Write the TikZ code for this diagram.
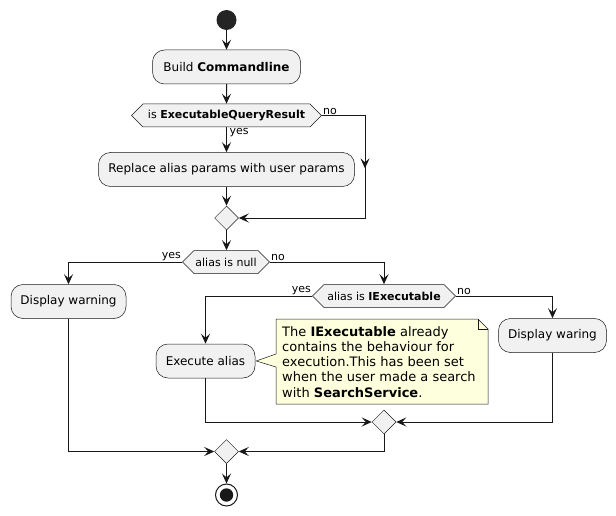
\documentclass[tikz,border=0pt]{standalone}
\usepackage{fontspec}
\setmainfont{DejaVu Sans}
\usetikzlibrary{arrows.meta}
\usetikzlibrary{shapes.geometric}
\usetikzlibrary{shapes.symbols}
\usetikzlibrary{calc}
\usetikzlibrary{decorations.markings}

\definecolor{boxfill}{HTML}{F1F1F1}
\definecolor{linecol}{HTML}{181818}
\definecolor{notefill}{HTML}{FEFFDD}

\tikzset{
  action/.style={draw=linecol,line width=0.5pt,fill=boxfill,rounded corners=12pt,minimum height=34pt,inner sep=0pt,font=\fontsize{12}{14}\selectfont},
  test/.style={draw=linecol,line width=0.5pt,fill=boxfill,signal,signal to=west and east,signal pointer angle=90,minimum height=23pt,inner sep=0pt,font=\fontsize{11}{13}\selectfont},
  merge/.style={draw=linecol,line width=0.5pt,fill=boxfill,diamond,minimum size=24pt,inner sep=0pt},
  startnode/.style={circle,fill=linecol!95!white,minimum size=20pt,inner sep=0pt},
  endnode/.style={circle,draw=linecol,line width=1pt,fill=white,minimum size=22pt,inner sep=0pt},
  flow/.style={draw=linecol,line width=1pt,-{Stealth[length=10pt,width=9pt,inset=4pt]}},
  midarrow/.style={postaction=decorate,decoration={markings,mark=at position #1 with {\arrow{Stealth[length=10pt,width=9pt,inset=4pt]}}}},
  lbl/.style={font=\fontsize{11}{12}\selectfont,inner sep=1pt},
  note/.style={draw=linecol,line width=0.5pt,fill=notefill},
}

\begin{document}
\begin{tikzpicture}[x=1pt,y=-1pt]
\useasboundingbox (0,0) rectangle (616,516);

\node[startnode] (start) at (226.5,20) {};
\node[action,minimum width=148pt] (build) at (226.5,67) {Build \textbf{Commandline}};
\node[test,minimum width=190pt] (isexec) at (226.5,115.5) {is \textbf{ExecutableQueryResult}};
\node[action,minimum width=256pt] (replace) at (226.5,169.5) {Replace alias params with user params};
\node[merge] (m1) at (226.5,218) {};

\node[test,minimum width=87pt] (isnull) at (226,262) {alias is null};
\node[action,minimum width=115pt] (warn) at (68.5,301.5) {Display warning};
\node[test,minimum width=143pt] (isiexec) at (384,296) {alias is \textbf{IExecutable}};
\node[action,minimum width=99pt] (execute) at (205.5,361) {Execute alias};
\node[action,minimum width=108pt] (waring) at (552.5,335.5) {Display waring};

\node[merge] (m2) at (384,422) {};
\node[merge] (m3) at (226.5,451.5) {};
\node[endnode] (stop) at (226.5,495) {};
\fill[linecol] (stop.center) circle (6.7pt);

% first if
\draw[flow] (start) -- (build);
\draw[flow] (build) -- (isexec);
\draw[flow] (isexec.south) -- (replace.north);
\draw[flow] (replace) -- (m1);
\coordinate (noA) at (365,115.5);
\coordinate (noB) at (365,218);
\draw[flow,midarrow=96pt] (isexec.east) -- (noA) -- (noB) -- (m1.east);
\node[lbl,anchor=north west] at ($(isexec.south)+(2,0)$) {yes};
\node[lbl,anchor=south west] at (isexec.east) {no};

% alias checks
\draw[flow] (m1) -- (isnull.north -| m1);
\draw[flow] (isnull.west) -| (warn.north);
\draw[flow] (isnull.east) -| (isiexec.north);
\node[lbl,anchor=south east] at (isnull.west) {yes};
\node[lbl,anchor=south west] at (isnull.east) {no};

\draw[flow] (isiexec.west) -| (execute.north);
\draw[flow] (isiexec.east) -| (waring.north);
\node[lbl,anchor=south east] at (isiexec.west) {yes};
\node[lbl,anchor=south west] at (isiexec.east) {no};

% note
\draw[note] (276,319) -- (478,319) -- (488,329) -- (488,404) -- (276,404) -- (276,367)
  -- ($(execute.east)+(1,0)$) -- (276,354) -- cycle;
\draw[linecol,line width=0.5pt] (478,319) -- (478,329) -- (488,329);
\node[anchor=north west,align=left,inner sep=0pt,font=\fontsize{13}{15.25}\selectfont] (notetxt) at (282,326)
  {The \textbf{IExecutable} already\\contains the behaviour for\\execution.This has been set\\when the user made a search\\with \textbf{SearchService}.};

% merges
\draw[flow] (execute.south) |- (m2.west);
\draw[flow] (waring.south) |- (m2.east);
\draw[flow] (warn.south) |- (m3.west);
\draw[flow] (m2.south) |- (m3.east);
\draw[flow] (m3) -- (stop);
\end{tikzpicture}
\end{document}
